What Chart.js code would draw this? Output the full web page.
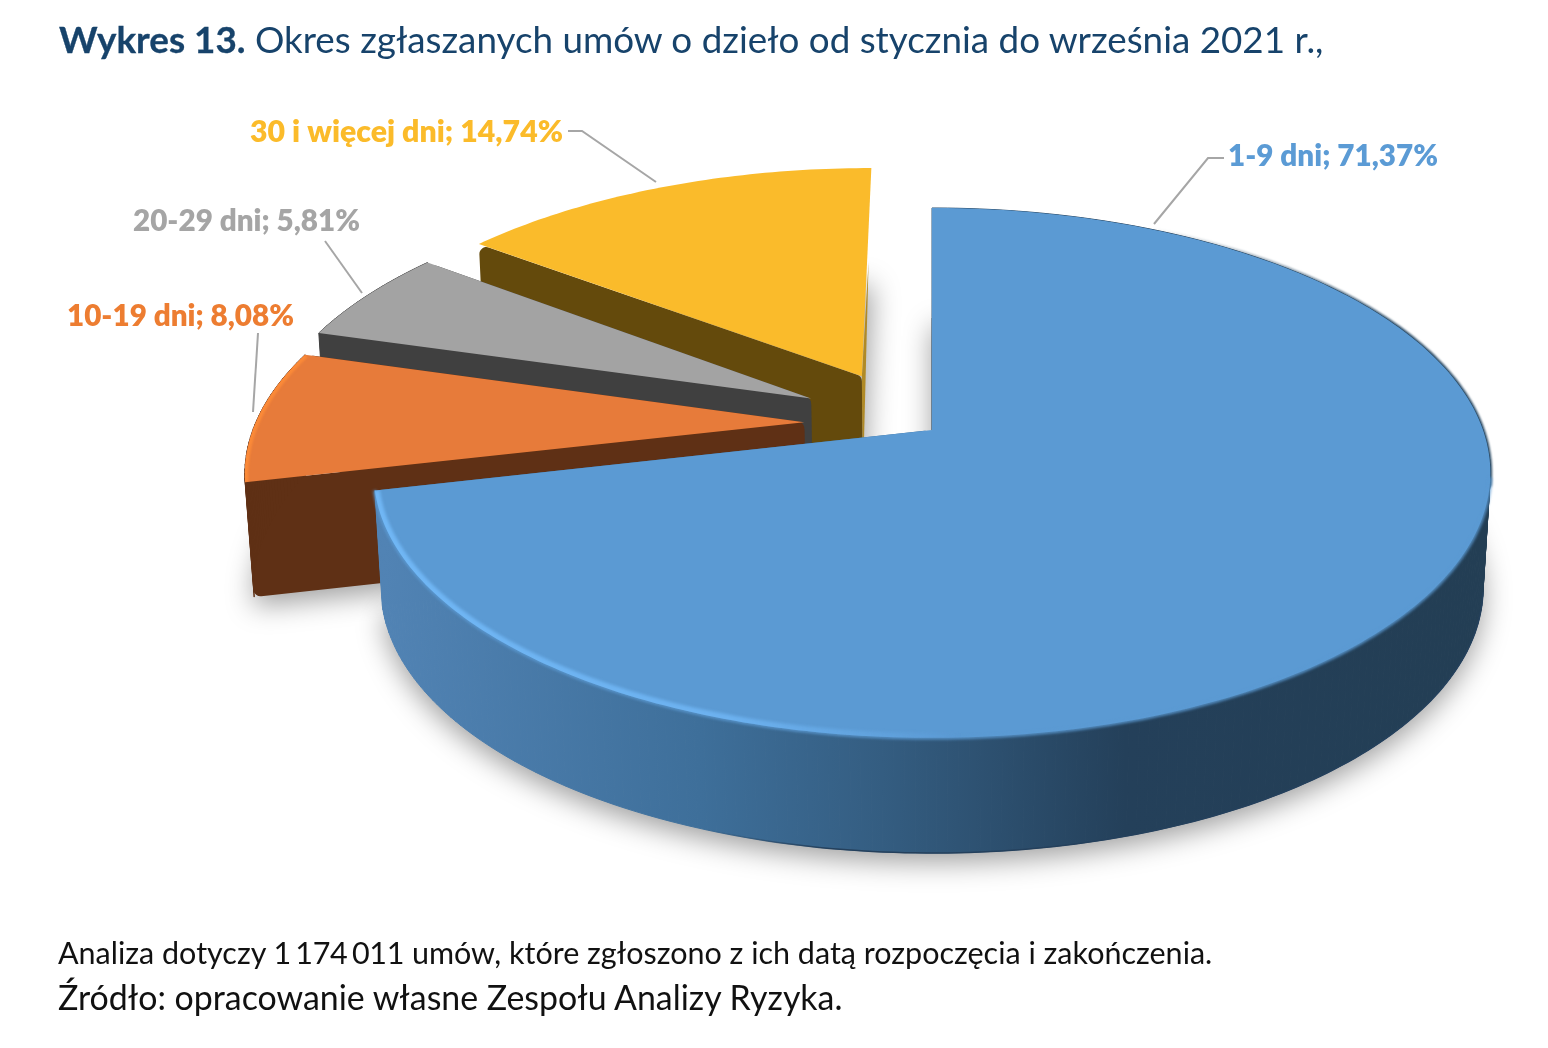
<!DOCTYPE html>
<html lang="pl">
<head>
<meta charset="utf-8">
<script src="https://cdn.jsdelivr.net/npm/chart.js@4"></script>
<style>
html,body{margin:0;padding:0;background:#fff;width:1548px;height:1048px;overflow:hidden}
canvas{position:absolute;left:0;top:0}
.t{position:absolute;font-family:Lato,sans-serif;white-space:nowrap;line-height:1}
#title{left:59px;top:21px;font-size:36.8px;color:#17436b}
#title b{font-weight:700;-webkit-text-stroke:.3px #17436b}
#note{left:58px;top:937px;font-size:30.5px;color:#111}
#note span{word-spacing:-.1em;letter-spacing:-.01em}
#src{left:58px;top:981px;font-size:33.9px;color:#111}
</style>
</head>
<body>
<canvas id="c" width="1548" height="1048"></canvas>
<div class="t" id="title"><b>Wykres 13.</b> Okres zgłaszanych umów o dzieło od stycznia do września 2021 r.,</div>
<div class="t" id="note">Analiza dotyczy <span>1 174 011</span> umów, które zgłoszono z ich datą rozpoczęcia i zakończenia.</div>
<div class="t" id="src">Źródło: opracowanie własne Zespołu Analizy Ryzyka.</div>
<script>
const categories = ['1-9 dni', '10-19 dni', '20-29 dni', '30 i więcej dni'];
const shares = [71.37, 8.08, 5.81, 14.74];
const topColors = ['#5b9ad3', '#e77b3a', '#a3a3a3', '#fabb2b'];
const labelColors = ['#5b9bd5', '#ed7d31', '#a5a5a5', '#fbbb2a'];
const sideColors = ['#3e6f9a', '#5f3015', '#404040', '#644a0c'];

/* perspective camera of the 3-D pie */
const cam = {cx: 932, cy: 430, A: 551, k: 258, g: 0.162, ex: 0.013, ey: 0.058, h: 121};
const nudge = [[0, 0], [0.017, -0.024], [0, -0.013], [-0.02, 0.0085]];
const proj = (X, Y, z) => {
  const D = 1 - cam.g * Y;
  return [cam.cx + cam.A * X / (D + cam.ex * z), cam.cy + (cam.k * Y + cam.h * z) / (D + cam.ey * z)];
};
const layoutLabels = [
  {x: 1228, y: 166, w: 210, line: [[1154, 224], [1208, 158], [1224, 158]]},
  {x: 67, y: 326, w: 227, line: [[253, 412], [258, 333]]},
  {x: 133, y: 231, w: 227, line: [[362, 293], [325, 241]]},
  {x: 250, y: 142, w: 313, line: [[656, 182], [582, 131], [568, 131]]}
];

function sliceGeom(el, i) {
  const frac = el.options.offset / el.outerRadius;
  const mid = (el.startAngle + el.endAngle) / 2;
  const ox = Math.cos(mid) * frac + nudge[i][0];
  const oy = Math.sin(mid) * frac + nudge[i][1];
  const n = Math.max(8, Math.round((el.endAngle - el.startAngle) * 60));
  const arc = z => {
    const p = [];
    for (let j = 0; j <= n; j++) {
      const a = el.startAngle + (el.endAngle - el.startAngle) * j / n;
      p.push(proj(ox + Math.cos(a), oy + Math.sin(a), z));
    }
    return p;
  };
  return {top: arc(0), base: arc(1), apex: proj(ox, oy, 0), apexB: proj(ox, oy, 1)};
}
function poly(ctx, pts) {
  ctx.beginPath();
  pts.forEach((p, i) => i ? ctx.lineTo(p[0], p[1]) : ctx.moveTo(p[0], p[1]));
  ctx.closePath();
}
function rounded(ctx, pts, r) {
  const m = pts.length;
  ctx.beginPath();
  ctx.moveTo((pts[0][0] + pts[1][0]) / 2, (pts[0][1] + pts[1][1]) / 2);
  for (let i = 1; i <= m; i++) {
    const a = pts[i % m], b = pts[(i + 1) % m];
    ctx.arcTo(a[0], a[1], b[0], b[1], r);
  }
  ctx.closePath();
}
function open(ctx, pts) {
  ctx.beginPath();
  pts.forEach((p, i) => i ? ctx.lineTo(p[0], p[1]) : ctx.moveTo(p[0], p[1]));
}

const pie3d = {
  id: 'pie3d',
  beforeDatasetDraw(chart, args) {
    const ctx = chart.ctx;
    const els = chart.getDatasetMeta(args.index).data;
    const geo = els.map(sliceGeom);
    /* soft floor shadow only: the shape itself is drawn off canvas */
    ctx.save();
    ctx.shadowColor = 'rgba(0,0,0,.38)';
    ctx.shadowBlur = 28;
    ctx.shadowOffsetX = 3000;
    ctx.shadowOffsetY = 9;
    ctx.fillStyle = '#000';
    ctx.translate(-3000, 0);
    geo.forEach(g => { poly(ctx, [g.apexB, ...g.base]); ctx.fill(); });
    ctx.restore();

    const rimGrad = ctx.createLinearGradient(385, 0, 1490, 0);
    rimGrad.addColorStop(0, '#5183b4');
    rimGrad.addColorStop(0.285, '#3e6f9a');
    rimGrad.addColorStop(0.45, '#345d81');
    rimGrad.addColorStop(0.67, '#24405a');
    rimGrad.addColorStop(1, '#233e54');

    [3, 2, 1, 0].forEach(i => {
      const g = geo[i], last = g.top.length - 1, n = g.top.length;
      ctx.save();
      /* radial cut faces */
      if (i === 3) {
        /* the far cut of the gold slice shows only as a thin strip */
        const t = 0.45, c = g.top[last], a = g.apex;
        ctx.fillStyle = '#b08a26';
        poly(ctx, [[c[0] + (a[0] - c[0]) * t + 1.5, c[1] + (a[1] - c[1]) * t], g.apexB, a]);
        ctx.fill();
      } else {
        ctx.fillStyle = sideColors[i];
        rounded(ctx, [g.apex, g.top[last], g.base[last], g.apexB], 7); ctx.fill();
      }
      ctx.fillStyle = sideColors[i];
      rounded(ctx, [g.apex, g.top[0], g.base[0], g.apexB], 7); ctx.fill();
      /* outer wall, quad by quad so that the silhouette has straight sides */
      if (i !== 3) {
        ctx.fillStyle = ctx.strokeStyle = i === 0 ? rimGrad : sideColors[i];
        ctx.lineWidth = 1;
        for (let j = 0; j < last; j++) {
          poly(ctx, [g.top[j], g.top[j + 1], g.base[j + 1], g.base[j]]);
          ctx.fill(); ctx.stroke();
        }
      }
      if (i === 0) {
        const baseLine = ctx.createLinearGradient(700, 0, 830, 0);
        baseLine.addColorStop(0, 'rgba(36,64,92,0)');
        baseLine.addColorStop(1, 'rgba(36,64,92,1)');
        ctx.strokeStyle = baseLine; ctx.lineWidth = 1.5;
        open(ctx, g.base.slice(Math.round(n * 0.39))); ctx.stroke();
        /* thin dark line round the back right edge */
        ctx.save();
        ctx.filter = 'blur(1.2px)';
        const edge = ctx.createLinearGradient(1150, 0, 1400, 0);
        edge.addColorStop(0, 'rgba(42,74,100,0)');
        edge.addColorStop(1, 'rgba(42,74,100,1)');
        ctx.strokeStyle = edge; ctx.lineWidth = 3.5;
        open(ctx, g.top.slice(Math.round(n * 0.08), Math.round(n * 0.4))); ctx.stroke();
        ctx.restore();
        /* dark line along the start cut */
        ctx.strokeStyle = '#2a4a64'; ctx.lineWidth = 1.2;
        open(ctx, [g.base[0], g.apex]); ctx.stroke();
      }
      /* top surface */
      ctx.fillStyle = topColors[i];
      poly(ctx, [g.apex, ...g.top]);
      ctx.fill();
      ctx.restore();
      if (i === 0) {
        /* soft transition top/wall */
        ctx.save();
        ctx.filter = 'blur(1.8px)';
        ctx.strokeStyle = topColors[0]; ctx.lineWidth = 3;
        open(ctx, g.top.slice(Math.round(n * 0.39))); ctx.stroke();
        ctx.restore();
        /* bevel highlight on the front-left edge */
        ctx.save();
        poly(ctx, [g.apex, ...g.top]); ctx.clip();
        ctx.filter = 'blur(1.4px)';
        const hi = ctx.createLinearGradient(380, 0, 960, 0);
        hi.addColorStop(0, '#70b6f4');
        hi.addColorStop(0.6, '#6cb1ef');
        hi.addColorStop(1, 'rgba(108,177,239,0)');
        ctx.strokeStyle = hi; ctx.lineWidth = 10;
        open(ctx, g.top.slice(Math.round(n * 0.55))); ctx.stroke();
        ctx.restore();
      }
      if (i === 1) {
        /* lighter outer edge of the orange slice */
        ctx.save();
        poly(ctx, [g.apex, ...g.top]); ctx.clip();
        ctx.filter = 'blur(1px)';
        ctx.strokeStyle = '#fb8a38'; ctx.lineWidth = 7;
        open(ctx, g.top); ctx.stroke();
        ctx.restore();
      }
    });
    return false;
  },
  afterDraw(chart) {
    const ctx = chart.ctx;
    ctx.save();
    layoutLabels.forEach((l, i) => {
      ctx.strokeStyle = '#a6a6a6'; ctx.lineWidth = 2;
      open(ctx, l.line); ctx.stroke();
      ctx.fillStyle = labelColors[i];
      ctx.font = '800 31px Lato, sans-serif';
      ctx.textBaseline = 'alphabetic';
      const txt = categories[i] + '; ' + shares[i].toFixed(2).replace('.', ',') + '%';
      ctx.fillText(txt, l.x, l.y, l.w);
    });
    ctx.restore();
  }
};

new Chart(document.getElementById('c'), {
  type: 'pie',
  data: {
    labels: categories,
    datasets: [{data: shares, backgroundColor: topColors, offset: [0, 116.5, 116.5, 116.5], borderWidth: 0}]
  },
  options: {
    responsive: false,
    animation: false,
    devicePixelRatio: 1,
    layout: {padding: 0},
    plugins: {legend: {display: false}, tooltip: {enabled: false}, title: {display: false}}
  },
  plugins: [pie3d]
});
</script>
</body>
</html>
